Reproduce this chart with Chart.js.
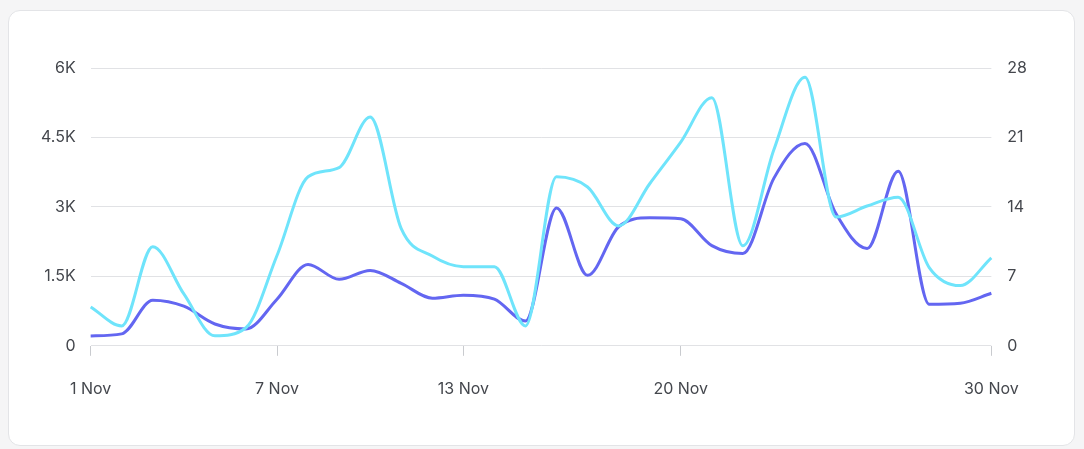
<!DOCTYPE html>
<html>
<head>
<meta charset="utf-8">
<script src="https://cdn.jsdelivr.net/npm/chart.js@4"></script>
<style>
  html, body { margin: 0; padding: 0; background: #f5f5f6; }
  .card {
    position: absolute; left: 8px; top: 10px; width: 1065px; height: 434px;
    background: #fff; border: 1px solid #e3e4e7; border-radius: 12px;
  }
  .wrap { position: absolute; left: 0; top: 0; width: 1065px; height: 434px; }
</style>
</head>
<body>
<div class="card"><div class="wrap"><canvas id="chart"></canvas></div></div>
<script>
const days = [];
for (let d = 1; d <= 30; d++) days.push(d + ' Nov');
const shownLabels = ['1 Nov', '7 Nov', '13 Nov', '20 Nov', '30 Nov'];

// left axis (cyan)
const revenue = [840, 430, 2140, 1120, 215, 390, 1950, 3650, 3850, 4940,
  2530, 1940, 1710, 1710, 430, 3650, 3430, 2590, 3500, 4400,
  5360, 2160, 4240, 5800, 2780, 3020, 3210, 1690, 1300, 1900];
// right axis (indigo)
const orders = [1.0, 1.2, 4.6, 4.0, 2.2, 1.7, 4.7, 8.2, 6.7, 7.6,
  6.3, 4.8, 5.1, 4.7, 2.5, 13.9, 7.1, 12.0, 12.9, 12.8,
  10.1, 9.3, 16.9, 20.4, 13.3, 9.8, 17.6, 4.2, 4.3, 5.3];

const tickFont = { family: 'Inter', size: 16 };
const tickColor = '#44474d';

const ctx = document.getElementById('chart').getContext('2d');
const chart = new Chart(ctx, {
  type: 'line',
  data: {
    labels: days,
    datasets: [{
      data: revenue,
      borderColor: '#6fe4fb',
      borderWidth: 3,
      pointRadius: 0,
      cubicInterpolationMode: 'monotone',
      yAxisID: 'y'
    }, {
      data: orders,
      borderColor: '#6366f1',
      borderWidth: 3,
      pointRadius: 0,
      cubicInterpolationMode: 'monotone',
      yAxisID: 'y1'
    }]
  },
  options: {
    responsive: true,
    maintainAspectRatio: false,
    animation: false,
    layout: { padding: { left: 17, right: 31, top: 57, bottom: 22 } },
    plugins: { legend: { display: false }, tooltip: { enabled: false } },
    scales: {
      x: {
        grid: { drawOnChartArea: false, tickLength: 10, color: '#c9cbcf' },
        border: { display: false },
        ticks: {
          autoSkip: false, maxRotation: 0, padding: 24,
          font: tickFont, color: tickColor,
          callback: function (v) {
            const l = this.getLabelForValue(v);
            return shownLabels.includes(l) ? l : null;
          }
        }
      },
      y: {
        position: 'left', min: 0, max: 6000,
        grid: { drawTicks: false, color: '#e1e2e5' },
        border: { display: false },
        ticks: {
          stepSize: 1500, padding: 15, font: tickFont, color: tickColor,
          callback: v => v === 0 ? '0' : (v / 1000) + 'K'
        }
      },
      y1: {
        position: 'right', min: 0, max: 28,
        grid: { drawOnChartArea: false, drawTicks: false },
        border: { display: false },
        ticks: { stepSize: 7, padding: 16, font: tickFont, color: tickColor }
      }
    }
  }
});
</script>
</body>
</html>
